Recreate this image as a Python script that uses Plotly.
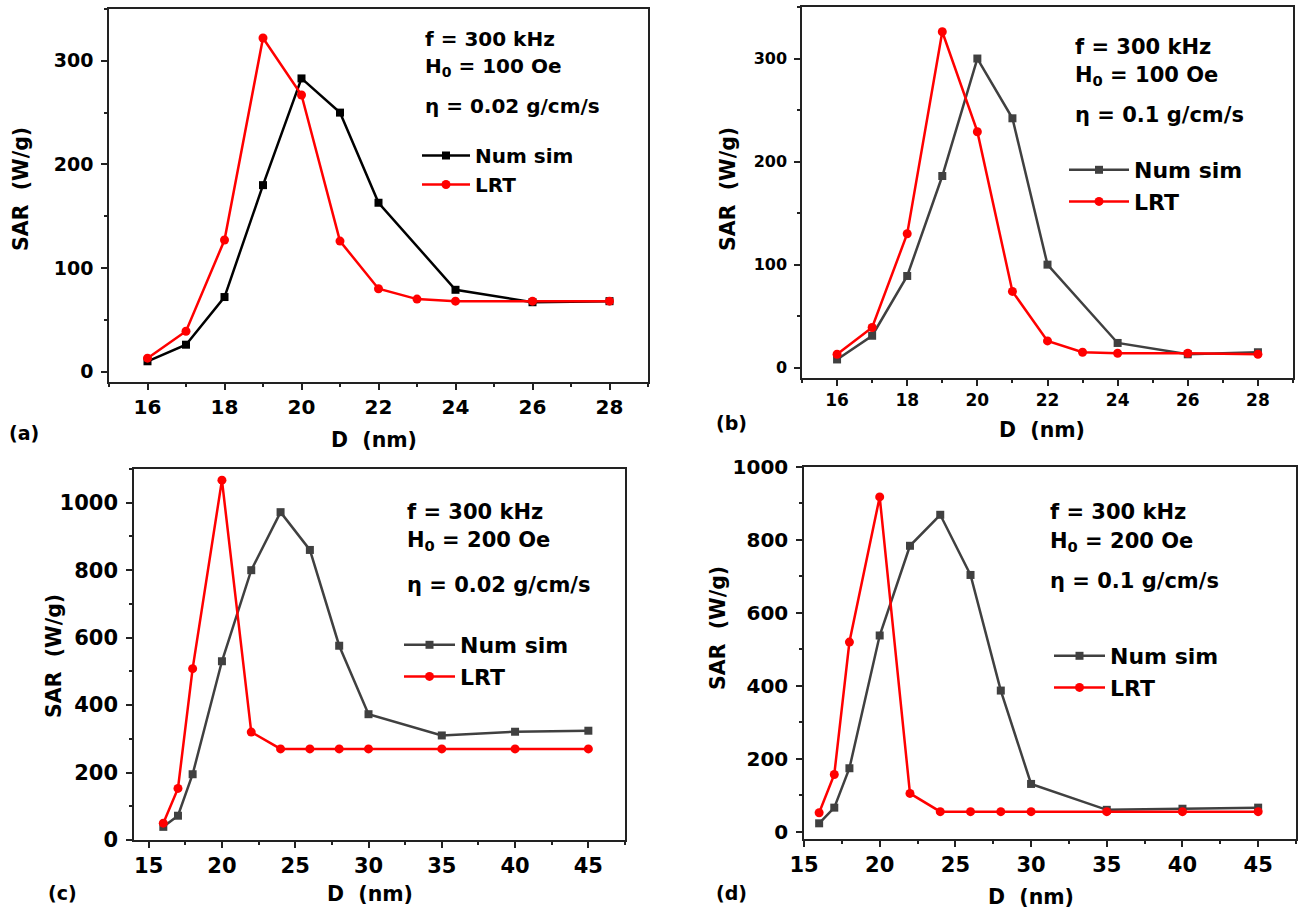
import plotly.graph_objects as go

W, H = 1300, 915

# ---------------- data ----------------
D_ab_num = [16, 17, 18, 19, 20, 21, 22, 24, 26, 28]
D_ab_lrt = [16, 17, 18, 19, 20, 21, 22, 23, 24, 26, 28]
a_num = [10, 26, 72, 180, 283, 250, 163, 79, 67, 68]
a_lrt = [13, 39, 127, 322, 267, 126, 80, 70, 68, 68, 68]
b_num = [8, 31, 89, 186, 300, 242, 100, 24, 13, 15]
b_lrt = [13, 39, 130, 326, 229, 74, 26, 15, 14, 14, 13]

D_cd = [16, 17, 18, 20, 22, 24, 26, 28, 30, 35, 40, 45]
c_num = [39, 72, 195, 530, 800, 972, 860, 576, 373, 310, 321, 324]
c_lrt = [50, 153, 508, 1067, 320, 270, 270, 270, 270, 270, 270, 270]
d_num = [23, 66, 174, 538, 784, 869, 704, 387, 131, 60, 63, 66]
d_lrt = [52, 157, 520, 918, 105, 55, 55, 55, 55, 55, 55, 55]

panel_labels = ["(a)", "(b)", "(c)", "(d)"]
f_text = "f = 300 kHz"
h_texts = ["H<sub>0</sub> = 100 Oe", "H<sub>0</sub> = 100 Oe", "H<sub>0</sub> = 200 Oe", "H<sub>0</sub> = 200 Oe"]
eta_texts = ["η = 0.02 g/cm/s", "η = 0.1 g/cm/s", "η = 0.02 g/cm/s", "η = 0.1 g/cm/s"]
series_names = ["Num sim", "LRT"]
x_title = "D  (nm)"
y_title = "SAR  (W/g)"

FONT = "DejaVu Sans, Liberation Sans, Arial, sans-serif"
RED = "#FF0000"
GRAY = "#404040"


def px(x):
    return x / W


def py(y):
    return 1 - y / H


# panel geometry (pixel boxes: left, right, top, bottom)
boxes = [
    (109, 648, 9, 382),
    (802, 1293, 7, 378),
    (134, 625, 469, 840),
    (804, 1296, 467, 839),
]

panels = [
    dict(xs_num=D_ab_num, y_num=a_num, xs_lrt=D_ab_lrt, y_lrt=a_lrt, numcol="#000000",
         xrange=[15, 29], yrange=[-10, 350], xdt=2, xmin=1, ydt=100, ymin=50,
         xtf=20, ytf=19, txt=20, leg=20, legw=48),
    dict(xs_num=D_ab_num, y_num=b_num, xs_lrt=D_ab_lrt, y_lrt=b_lrt, numcol=GRAY,
         xrange=[15, 29], yrange=[-10, 350], xdt=2, xmin=1, ydt=100, ymin=50,
         xtf=17, ytf=16, txt=21, leg=22, legw=60),
    dict(xs_num=D_cd, y_num=c_num, xs_lrt=D_cd, y_lrt=c_lrt, numcol=GRAY,
         xrange=[14, 47.5], yrange=[0, 1100], xdt=5, xmin=2.5, ydt=200, ymin=100,
         xtf=21, ytf=21, txt=21, leg=22, legw=51),
    dict(xs_num=D_cd, y_num=d_num, xs_lrt=D_cd, y_lrt=d_lrt, numcol=GRAY,
         xrange=[15, 47.5], yrange=[-20, 1000], xdt=5, xmin=2.5, ydt=200, ymin=100,
         xtf=21, ytf=20, txt=21, leg=22, legw=51),
]

# text positions (pixels)
text_left = [423, 1073, 405, 1048]
f_y = [39, 47, 512, 512]
h_y = [67, 76, 541, 542]
eta_y = [106, 115, 585, 581]
legend_pos = [(423, 136), (1070, 149), (405, 624), (1055, 635)]   # start of legend line sample
ytitle_pos = [(21, 189), (728, 189), (54, 656), (718, 628)]
xtitle_pos = [(374, 440), (1042, 430), (370, 894), (1031, 897)]
plabel_pos = [(24, 433), (731, 423), (62, 893), (731, 893)]

fig = go.Figure()
annotations = []

for i, (p, box) in enumerate(zip(panels, boxes)):
    n = "" if i == 0 else str(i + 1)
    xa, ya = "x" + n, "y" + n
    leg = "legend" + n
    fig.add_trace(go.Scatter(
        x=p["xs_num"], y=p["y_num"], mode="lines+markers", name=series_names[0],
        line=dict(color=p["numcol"], width=2.5),
        marker=dict(symbol="square", size=8, color=p["numcol"]),
        xaxis=xa, yaxis=ya, legend=leg))
    fig.add_trace(go.Scatter(
        x=p["xs_lrt"], y=p["y_lrt"], mode="lines+markers", name=series_names[1],
        line=dict(color=RED, width=2.5),
        marker=dict(symbol="circle", size=9, color=RED),
        xaxis=xa, yaxis=ya, legend=leg))

    l, r, t, b = box
    common = dict(showgrid=False, zeroline=False, showline=True, linecolor="#222222",
                  linewidth=1.5, mirror=True, ticks="outside", ticklen=6, tickwidth=1.5,
                  tickcolor="#222222", automargin=False)
    fig.layout["xaxis" + n] = dict(
        common, domain=[px(l), px(r)], range=p["xrange"], dtick=p["xdt"], tick0=0,
        anchor=ya, tickfont=dict(family=FONT, size=p["xtf"], color="#000", weight="bold"),
        minor=dict(ticks="outside", ticklen=3, dtick=p["xmin"], tick0=0, tickcolor="#222222", tickwidth=1.5))
    fig.layout["yaxis" + n] = dict(
        common, domain=[py(b), py(t)], range=p["yrange"], dtick=p["ydt"], tick0=0,
        anchor=xa, tickfont=dict(family=FONT, size=p["ytf"], color="#000", weight="bold"),
        ticklabelstandoff=4,
        minor=dict(ticks="outside", ticklen=3, dtick=p["ymin"], tick0=0, tickcolor="#222222", tickwidth=1.5))

    lx, ly = legend_pos[i]
    fig.layout[leg] = dict(x=px(lx - 6), y=py(ly), xanchor="left", yanchor="top",
                           bgcolor="rgba(0,0,0,0)", itemwidth=p["legw"],
                           font=dict(family=FONT, size=p["leg"], color="#000", weight="bold"),
                           tracegroupgap=0)

    for txt, yy in ((f_text, f_y[i]), (h_texts[i], h_y[i]), (eta_texts[i], eta_y[i])):
        annotations.append(dict(text=txt, x=px(text_left[i]), y=py(yy), xref="paper", yref="paper",
                                xanchor="left", yanchor="middle", showarrow=False,
                                font=dict(family=FONT, size=p["txt"], color="#000", weight="bold")))
    tx, ty = ytitle_pos[i]
    annotations.append(dict(text=y_title, x=px(tx), y=py(ty), xref="paper", yref="paper",
                            xanchor="center", yanchor="middle", textangle=-90, showarrow=False,
                            font=dict(family=FONT, size=20.5, color="#000", weight="bold")))
    tx, ty = xtitle_pos[i]
    annotations.append(dict(text=x_title, x=px(tx), y=py(ty), xref="paper", yref="paper",
                            xanchor="center", yanchor="middle", showarrow=False,
                            font=dict(family=FONT, size=20.5, color="#000", weight="bold")))
    tx, ty = plabel_pos[i]
    annotations.append(dict(text=panel_labels[i], x=px(tx), y=py(ty), xref="paper", yref="paper",
                            xanchor="center", yanchor="middle", showarrow=False,
                            font=dict(family=FONT, size=19, color="#000", weight="bold")))

fig.update_layout(
    width=W, height=H, margin=dict(l=0, r=0, t=0, b=0, autoexpand=False),
    paper_bgcolor="white", plot_bgcolor="white",
    annotations=annotations, showlegend=True,
)

fig.write_html("out.html", config={"displayModeBar": False},
               post_script="document.body.style.margin='0px';")
